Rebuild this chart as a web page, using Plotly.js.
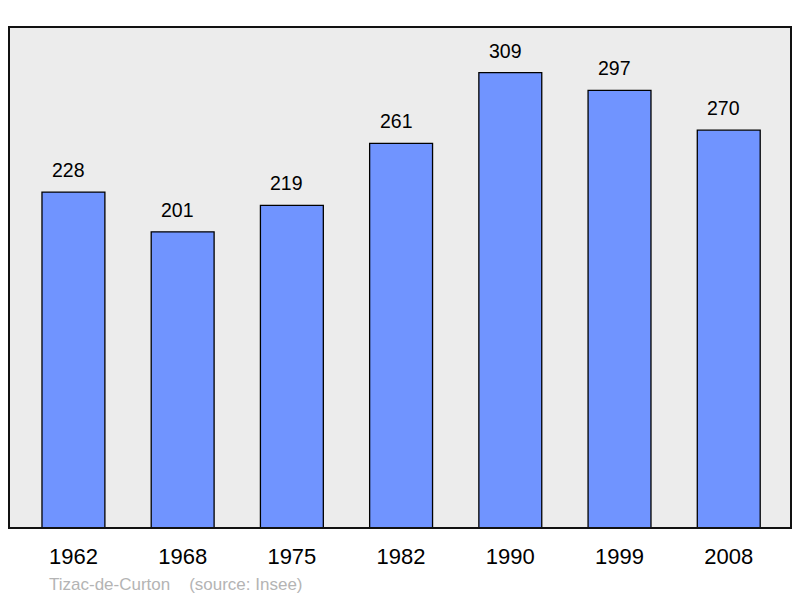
<!DOCTYPE html>
<html><head><meta charset="utf-8">
<script src="https://cdn.plot.ly/plotly-3.0.1.min.js"></script>
<style>body{margin:0;background:#fff}#c{width:800px;height:598px}</style>
</head><body><div id="c"></div>
<script>
const years = ["1962","1968","1975","1982","1990","1999","2008"];
const population = [228,201,219,261,309,297,270];

const trace = {
  type: "bar", x: years, y: population, width: 0.576,
  marker: {color: "#7094ff", line: {color: "#000", width: 1.3}},
  hoverinfo: "none"
};
const annotations = years.map((yr, i) => ({
  x: i, y: population[i], xref: "x", yref: "y", text: String(population[i]),
  showarrow: false, yanchor: "bottom", yshift: 9, xshift: -5,
  font: {family: "Liberation Sans, Arial, sans-serif", size: 19.5, color: "#000"}
}));
annotations.push({
  xref: "paper", yref: "paper", x: 0.0485, y: -0.112, xanchor: "left", yanchor: "middle",
  text: "Tizac-de-Curton&nbsp;&nbsp;&nbsp;&nbsp;(source: Insee)", showarrow: false,
  font: {family: "Liberation Sans, Arial, sans-serif", size: 17, color: "#b4b4b4"}
});
const layout = {
  width: 800, height: 598,
  margin: {l: 9, r: 9, t: 27, b: 70, pad: 0},
  paper_bgcolor: "#fff", plot_bgcolor: "#ececec",
  showlegend: false,
  xaxis: {type: "category", range: [-0.59, 6.57], showgrid: false, zeroline: false,
    ticks: "", showline: false, ticklabelstandoff: 13,
    tickfont: {family: "Liberation Sans, Arial, sans-serif", size: 22, color: "#000"}},
  yaxis: {range: [0, 340], showgrid: false, zeroline: false, showticklabels: false, ticks: "", showline: false},
  shapes: [{type: "rect", xref: "paper", yref: "paper", x0: 0, x1: 1, y0: 0, y1: 1,
    line: {color: "#111", width: 2}, fillcolor: "rgba(0,0,0,0)", layer: "above"}],
  annotations: annotations
};
Plotly.newPlot("c", [trace], layout, {staticPlot: true});
</script></body></html>
